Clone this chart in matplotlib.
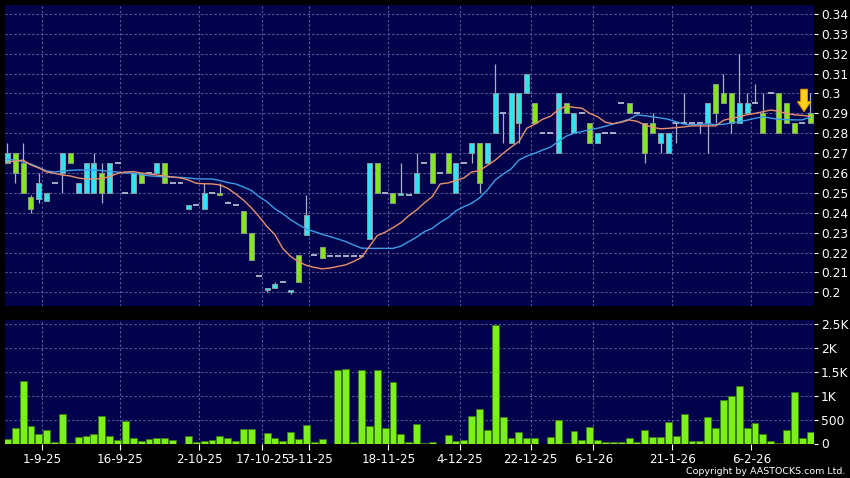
import numpy as np
import matplotlib
matplotlib.use("Agg")
import matplotlib.pyplot as plt
from matplotlib.patches import Polygon

# daily candles, oldest first (open, high, low, close)
opens = [0.265, 0.27, 0.265, 0.248, 0.247, 0.246, 0.255, 0.26, 0.27, 0.25,
         0.25, 0.25, 0.26, 0.25, 0.265, 0.25, 0.25, 0.26, 0.26, 0.26,
         0.265, 0.255, 0.255, 0.242, 0.244, 0.242, 0.25, 0.25, 0.245, 0.244,
         0.241, 0.23, 0.208, 0.201, 0.202, 0.205, 0.2, 0.219, 0.229, 0.219,
         0.223, 0.218, 0.218, 0.218, 0.218, 0.218, 0.227, 0.265, 0.25, 0.25,
         0.249, 0.249, 0.25, 0.265, 0.27, 0.26, 0.27, 0.25, 0.265, 0.27,
         0.275, 0.265, 0.28, 0.29, 0.275, 0.285, 0.30, 0.295, 0.28, 0.28,
         0.27, 0.295, 0.28, 0.29, 0.285, 0.275, 0.28, 0.28, 0.295, 0.295,
         0.29, 0.285, 0.285, 0.275, 0.27, 0.285, 0.285, 0.285, 0.285, 0.285,
         0.305, 0.30, 0.30, 0.285, 0.29, 0.295, 0.29, 0.30, 0.30, 0.295,
         0.285, 0.285, 0.29]
highs = [0.275, 0.27, 0.275, 0.249, 0.26, 0.25, 0.255, 0.27, 0.27, 0.255,
         0.265, 0.27, 0.265, 0.265, 0.265, 0.25, 0.26, 0.26, 0.26, 0.265,
         0.265, 0.255, 0.255, 0.244, 0.244, 0.255, 0.25, 0.255, 0.246, 0.244,
         0.241, 0.23, 0.208, 0.202, 0.205, 0.205, 0.201, 0.219, 0.249, 0.219,
         0.223, 0.218, 0.218, 0.219, 0.218, 0.218, 0.265, 0.265, 0.25, 0.25,
         0.265, 0.249, 0.27, 0.265, 0.27, 0.26, 0.27, 0.265, 0.265, 0.275,
         0.275, 0.275, 0.315, 0.29, 0.30, 0.30, 0.31, 0.295, 0.28, 0.28,
         0.30, 0.295, 0.29, 0.29, 0.285, 0.28, 0.28, 0.28, 0.295, 0.295,
         0.29, 0.285, 0.29, 0.28, 0.28, 0.285, 0.30, 0.285, 0.285, 0.295,
         0.305, 0.31, 0.30, 0.32, 0.30, 0.305, 0.30, 0.30, 0.30, 0.295,
         0.285, 0.285, 0.30]
lows = [0.265, 0.255, 0.25, 0.24, 0.245, 0.246, 0.255, 0.25, 0.265, 0.25,
        0.25, 0.25, 0.245, 0.25, 0.265, 0.25, 0.25, 0.255, 0.26, 0.26,
        0.255, 0.255, 0.255, 0.242, 0.244, 0.242, 0.25, 0.249, 0.245, 0.244,
        0.23, 0.216, 0.208, 0.2, 0.202, 0.205, 0.199, 0.205, 0.229, 0.219,
        0.217, 0.218, 0.218, 0.218, 0.218, 0.218, 0.227, 0.25, 0.25, 0.245,
        0.249, 0.249, 0.25, 0.265, 0.255, 0.26, 0.26, 0.25, 0.265, 0.265,
        0.25, 0.265, 0.28, 0.275, 0.275, 0.275, 0.30, 0.285, 0.28, 0.28,
        0.27, 0.29, 0.28, 0.29, 0.275, 0.275, 0.28, 0.28, 0.295, 0.29,
        0.29, 0.265, 0.28, 0.27, 0.27, 0.275, 0.285, 0.285, 0.28, 0.27,
        0.285, 0.295, 0.28, 0.285, 0.29, 0.295, 0.28, 0.30, 0.28, 0.285,
        0.28, 0.285, 0.285]
closes = [0.27, 0.26, 0.25, 0.242, 0.255, 0.25, 0.255, 0.27, 0.265, 0.255,
          0.265, 0.265, 0.25, 0.265, 0.265, 0.25, 0.26, 0.255, 0.26, 0.265,
          0.255, 0.255, 0.255, 0.244, 0.244, 0.25, 0.25, 0.249, 0.245, 0.244,
          0.23, 0.216, 0.208, 0.202, 0.204, 0.205, 0.201, 0.205, 0.239, 0.219,
          0.217, 0.218, 0.218, 0.218, 0.218, 0.218, 0.265, 0.25, 0.25, 0.245,
          0.25, 0.249, 0.26, 0.265, 0.255, 0.26, 0.26, 0.265, 0.265, 0.275,
          0.255, 0.275, 0.30, 0.29, 0.30, 0.30, 0.31, 0.285, 0.28, 0.28,
          0.30, 0.29, 0.29, 0.29, 0.275, 0.28, 0.28, 0.28, 0.295, 0.29,
          0.29, 0.27, 0.28, 0.28, 0.28, 0.285, 0.285, 0.285, 0.285, 0.295,
          0.29, 0.295, 0.285, 0.295, 0.295, 0.295, 0.28, 0.30, 0.28, 0.285,
          0.28, 0.285, 0.285]
volume = [100, 315, 1320, 357, 189, 273, 21, 609, 10, 126,
          147, 189, 574, 147, 77, 462, 105, 49, 98, 105,
          105, 63, 0, 154, 28, 42, 63, 147, 105, 42,
          301, 308, 0, 217, 105, 42, 245, 84, 378, 21,
          91, 0, 1547, 1568, 21, 1547, 364, 1547, 322, 1281,
          189, 21, 413, 20, 35, 0, 175, 49, 70, 574,
          714, 280, 2485, 560, 105, 245, 119, 119, 0, 133,
          497, 14, 252, 70, 350, 70, 35, 28, 35, 105,
          35, 287, 133, 133, 448, 154, 609, 49, 49, 546,
          315, 903, 994, 1197, 315, 420, 203, 42, 14, 280,
          1071, 112, 245]

# moving averages as drawn on the chart
ma_short = [0.2655, 0.266, 0.2665, 0.264, 0.2625, 0.2605, 0.2598, 0.259, 0.2585, 0.2575,
            0.257, 0.257, 0.2572, 0.2582, 0.2598, 0.2605, 0.2607, 0.26, 0.2595, 0.259,
            0.2585, 0.258, 0.2575, 0.2565, 0.2548, 0.2546, 0.2545, 0.254, 0.2523, 0.2495,
            0.2464, 0.2425, 0.238, 0.233, 0.229, 0.222, 0.218, 0.2154, 0.2135, 0.2125,
            0.2118, 0.2122, 0.213, 0.2138, 0.2155, 0.2175, 0.223, 0.2285, 0.2302, 0.2325,
            0.235, 0.2385, 0.2414, 0.245, 0.2481, 0.2545, 0.255, 0.2562, 0.2575, 0.2605,
            0.2612, 0.2638, 0.2665, 0.2699, 0.273, 0.2758, 0.2825, 0.2845, 0.287, 0.2885,
            0.2917, 0.2937, 0.293, 0.2926, 0.29, 0.2883, 0.2855, 0.2848, 0.2855, 0.2867,
            0.286, 0.2842, 0.283, 0.2822, 0.2825, 0.2828, 0.2832, 0.2837, 0.2837, 0.2837,
            0.2837, 0.2865, 0.2875, 0.2883, 0.2893, 0.29, 0.2908, 0.2917, 0.291, 0.29,
            0.2893, 0.289, 0.2885]
ma_long = [0.267, 0.2664, 0.2657, 0.2645, 0.2628, 0.261, 0.2605, 0.261, 0.2613, 0.2615,
           0.2615, 0.2615, 0.2612, 0.2608, 0.2605, 0.26, 0.26, 0.2592, 0.2586, 0.2583,
           0.258, 0.2579, 0.2578, 0.2575, 0.2571, 0.257, 0.257, 0.2562, 0.2552, 0.2545,
           0.253, 0.2512, 0.2481, 0.2455, 0.242, 0.2395, 0.2365, 0.234, 0.2318, 0.2305,
           0.2292, 0.228, 0.2268, 0.2255, 0.2238, 0.2222, 0.2221, 0.2221, 0.2221, 0.2221,
           0.2232, 0.2255, 0.2277, 0.2305, 0.2322, 0.2352, 0.2375, 0.241, 0.243, 0.2448,
           0.2475, 0.2515, 0.2565, 0.2595, 0.262, 0.2665, 0.2685, 0.2699, 0.2715, 0.273,
           0.2758, 0.2785, 0.28, 0.2808, 0.2818, 0.2825, 0.2835, 0.2847, 0.2858, 0.287,
           0.2892, 0.2888, 0.2883, 0.2877, 0.287, 0.2857, 0.2846, 0.2842, 0.2845, 0.2847,
           0.2843, 0.2845, 0.2852, 0.2858, 0.2866, 0.2875, 0.2883, 0.2876, 0.287, 0.2868,
           0.2867, 0.2867, 0.288]

tick_pos = [4.4, 14.35, 24.35, 32.4, 38.35, 48.4, 57.5, 66.5, 74.45, 84.5, 94.55]
tick_labels = ['1-9-25', '16-9-25', '2-10-25', '17-10-25', '3-11-25', '18-11-25',
               '4-12-25', '22-12-25', '6-1-26', '21-1-26', '6-2-26']
price_ticks = [0.20, 0.21, 0.22, 0.23, 0.24, 0.25, 0.26, 0.27, 0.28, 0.29,
               0.30, 0.31, 0.32, 0.33, 0.34]
vol_ticks = [0, 500, 1000, 1500, 2000, 2500]
vol_labels = ['0', '500', '1K', '1.5K', '2K', '2.5K']

NAVY = '#02024c'
UP = '#33e3f2'
DOWN = '#86e61c'
GRID = '#5a5a9c'

o = np.array(opens)
h = np.array(highs)
l = np.array(lows)
c = np.array(closes)
x = np.arange(len(c))

fig = plt.figure(figsize=(8.5, 4.78), dpi=100, facecolor='black')
ax = fig.add_axes([5/850, 1-306/478, 809/850, 301/478], facecolor=NAVY)
axv = fig.add_axes([5/850, 1-443.5/478, 809/850, 124/478], facecolor=NAVY, sharex=ax)

for a in (ax, axv):
    for s in a.spines.values():
        s.set_visible(False)
    a.grid(True, color=GRID, linestyle=(0, (2, 2)), linewidth=0.8)
    a.set_axisbelow(True)
    a.yaxis.tick_right()
    a.tick_params(axis='y', direction='out', length=3, width=0.8, colors='white',
                  labelsize=8.8, pad=2)

# wicks
ax.vlines(x, l, h, color='#a8b0c4', linewidth=0.9, zorder=2)

flat = o == c
up = (c > o)
down = (c < o)
bw = 0.64
ax.bar(x[up], (c - o)[up], bottom=o[up], width=bw, color=UP,
       edgecolor='#8a9aa0', linewidth=0.7, zorder=3)
ax.bar(x[down], (o - c)[down], bottom=c[down], width=bw, color=DOWN,
       edgecolor='#8a9a80', linewidth=0.7, zorder=3)
ax.hlines(c[flat], x[flat] - 0.38, x[flat] + 0.38, color='#c4c8d8', linewidth=1.2, zorder=3)

ax.plot(x, ma_long, color='#3c9ee6', linewidth=1.0, zorder=4)
ax.plot(x, ma_short, color='#e8916a', linewidth=1.0, zorder=4)

# marker arrow over the latest candle
xa = x[-1] - 0.76
arrow = Polygon([(xa - 0.42, 0.3021), (xa + 0.42, 0.3021), (xa + 0.42, 0.2959),
                 (xa + 0.84, 0.2959), (xa, 0.2909), (xa - 0.84, 0.2959),
                 (xa - 0.42, 0.2959)], closed=True, facecolor='#ffd21f',
                edgecolor='#e89a00', linewidth=0.8, zorder=6)
ax.add_patch(arrow)

ax.set_xlim(-0.3, 102.5)
ax.set_ylim(0.1931, 0.3445)
ax.set_yticks(price_ticks)
ax.set_yticklabels([('%.2f' % t).rstrip('0') for t in price_ticks])
ax.tick_params(axis='x', bottom=False, labelbottom=False)
ax.set_xticks(tick_pos)

axv.bar(x, volume, width=0.88, color='#7cf01a', edgecolor='#3e7a12', linewidth=0.6, zorder=3)
axv.set_ylim(0, 2600)
axv.set_yticks(vol_ticks)
axv.set_yticklabels(vol_labels)
axv.set_xticks(tick_pos)
axv.set_xticklabels(tick_labels)
axv.tick_params(axis='x', direction='out', length=4, width=0.8, colors='white',
                labelsize=8.6, pad=3)

fig.text(0.994, 0.004, 'Copyright by AASTOCKS.com Ltd.', ha='right', va='bottom',
         color='white', fontsize=6.8)

fig.savefig('out.png', dpi=100, facecolor='black')
